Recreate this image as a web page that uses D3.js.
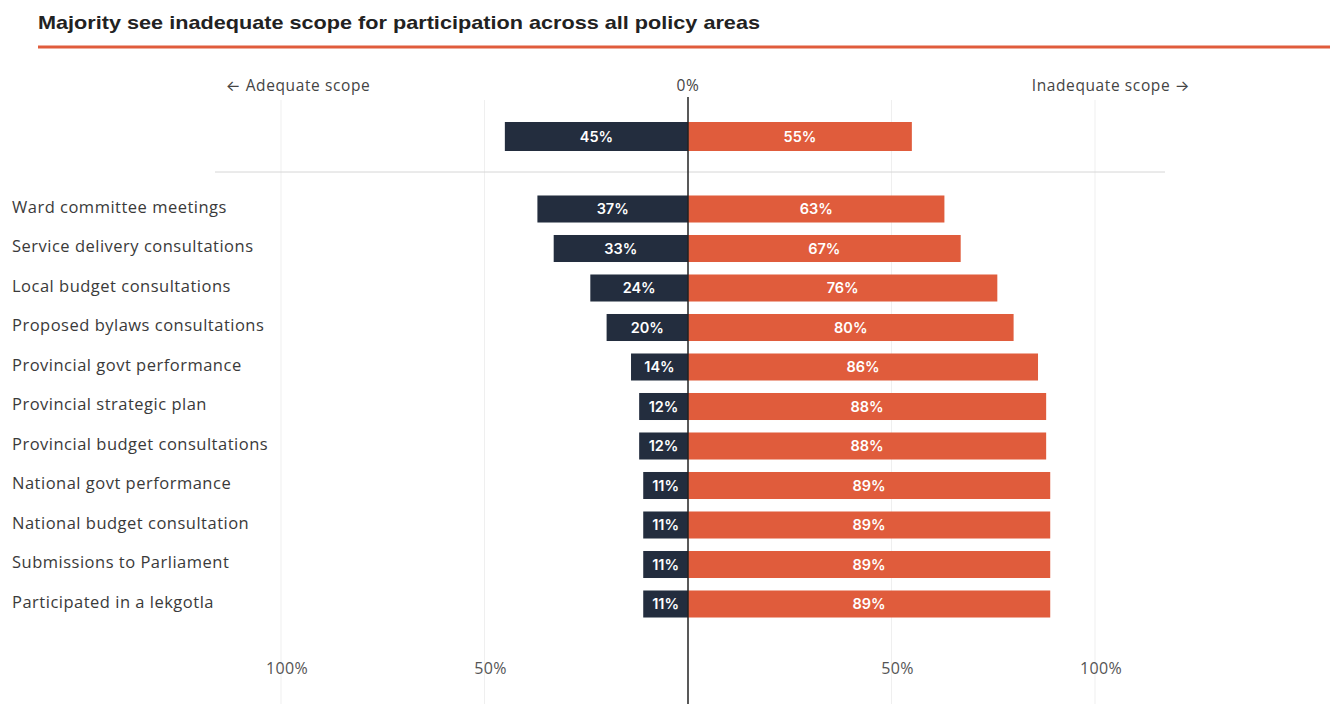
<!DOCTYPE html>
<html>
<head>
<meta charset="utf-8">
<script src="https://cdn.jsdelivr.net/npm/d3@7"></script>
<style>
  html, body { margin: 0; padding: 0; background: #ffffff; }
  svg { display: block; }
</style>
</head>
<body>
<svg id="chart" width="1330" height="704"></svg>
<script>
// Share of respondents who see adequate vs inadequate scope for participation
const totalAdequate = 45;
const totalInadequate = 55;

const categories = [
  "Ward committee meetings",
  "Service delivery consultations",
  "Local budget consultations",
  "Proposed bylaws consultations",
  "Provincial govt performance",
  "Provincial strategic plan",
  "Provincial budget consultations",
  "National govt performance",
  "National budget consultation",
  "Submissions to Parliament",
  "Participated in a lekgotla"
];
const adequate   = [37, 33, 24, 20, 14, 12, 12, 11, 11, 11, 11];
const inadequate = [63, 67, 76, 80, 86, 88, 88, 89, 89, 89, 89];

const tickValues = [-100, -50, 50, 100];
const tickLabels = ["100%", "50%", "50%", "100%"];

const NAVY = "#232d3e";
const ORANGE = "#e05c3c";

const svg = d3.select("#chart");

// Diverging scale: negative = adequate (left), positive = inadequate (right)
const x = d3.scaleLinear().domain([-100, 100]).range([281, 1095]);
const y = d3.scaleBand().domain(categories).range([189.25, 623.75])
  .paddingInner(0.316).paddingOuter(0.158);

// Title and rule
svg.append("text")
  .attr("x", 38).attr("y", 29)
  .attr("font-family", "Liberation Sans, Arial, sans-serif")
  .attr("font-weight", "bold").attr("font-size", 18.5)
  .attr("fill", "#222")
  .attr("textLength", 722).attr("lengthAdjust", "spacingAndGlyphs")
  .text("Majority see inadequate scope for participation across all policy areas");
svg.append("rect")
  .attr("x", 38).attr("y", 45.5).attr("width", 1292).attr("height", 3)
  .attr("fill", ORANGE);

// Vertical gridlines
svg.append("g").selectAll("line").data(tickValues).join("line")
  .attr("x1", d => x(d)).attr("x2", d => x(d))
  .attr("y1", 100).attr("y2", 704)
  .attr("stroke", "#efefef").attr("stroke-width", 1);

// Direction labels
const headFont = "Open Sans, Inter, sans-serif";
const heads = [
  { x: 298, t: "← Adequate scope" },
  { x: x(0), t: "0%" },
  { x: 1111, t: "Inadequate scope →" }
];
svg.append("g").selectAll("text").data(heads).join("text")
  .attr("x", d => d.x).attr("y", 91)
  .attr("text-anchor", "middle").attr("font-family", headFont)
  .attr("font-size", 15.5).attr("letter-spacing", 0.6).attr("fill", "#444")
  .text(d => d.t);

// Separator between total and breakdown
svg.append("line")
  .attr("x1", 215).attr("x2", 1165).attr("y1", 172).attr("y2", 172)
  .attr("stroke", "#d6d6d6").attr("stroke-width", 1);

const valueFont = "Inter, Lato, sans-serif";

function drawPair(g, yTop, h, a, b) {
  g.append("rect").attr("x", x(-a)).attr("y", yTop)
    .attr("width", x(0) - x(-a)).attr("height", h).attr("fill", NAVY);
  g.append("rect").attr("x", x(0)).attr("y", yTop)
    .attr("width", x(b) - x(0)).attr("height", h).attr("fill", ORANGE);
  g.append("text").attr("x", (x(-a) + x(0)) / 2).attr("y", yTop + h / 2)
    .attr("dy", "0.36em").attr("text-anchor", "middle")
    .attr("font-family", valueFont).attr("font-weight", 600)
    .attr("font-size", 14.5).attr("fill", "#fff").text(a + "%");
  g.append("text").attr("x", (x(0) + x(b)) / 2).attr("y", yTop + h / 2)
    .attr("dy", "0.36em").attr("text-anchor", "middle")
    .attr("font-family", valueFont).attr("font-weight", 600)
    .attr("font-size", 14.5).attr("fill", "#fff").text(b + "%");
}

// Total row
drawPair(svg.append("g"), 122, 29, totalAdequate, totalInadequate);

// Category rows
const rows = svg.append("g");
categories.forEach((c, i) => {
  drawPair(rows, y(c), y.bandwidth(), adequate[i], inadequate[i]);
});

// Category labels
svg.append("g").selectAll("text").data(categories).join("text")
  .attr("x", 12).attr("y", d => y(d) + y.bandwidth() / 2)
  .attr("dy", "0.22em")
  .attr("font-family", "Open Sans, Inter, sans-serif")
  .attr("font-size", 16.5).attr("letter-spacing", 0.5).attr("fill", "#3a3a3a")
  .text(d => d);

// Bottom scale labels
svg.append("g").selectAll("text").data(tickValues).join("text")
  .attr("x", d => x(d) + 6).attr("y", 674)
  .attr("text-anchor", "middle")
  .attr("font-family", headFont).attr("font-size", 16)
  .attr("letter-spacing", 0.3)
  .attr("fill", "#555")
  .text((d, i) => tickLabels[i]);

// Zero line
svg.append("line")
  .attr("x1", x(0)).attr("x2", x(0)).attr("y1", 97).attr("y2", 704)
  .attr("stroke", "#222").attr("stroke-width", 1.5);
</script>
</body>
</html>
